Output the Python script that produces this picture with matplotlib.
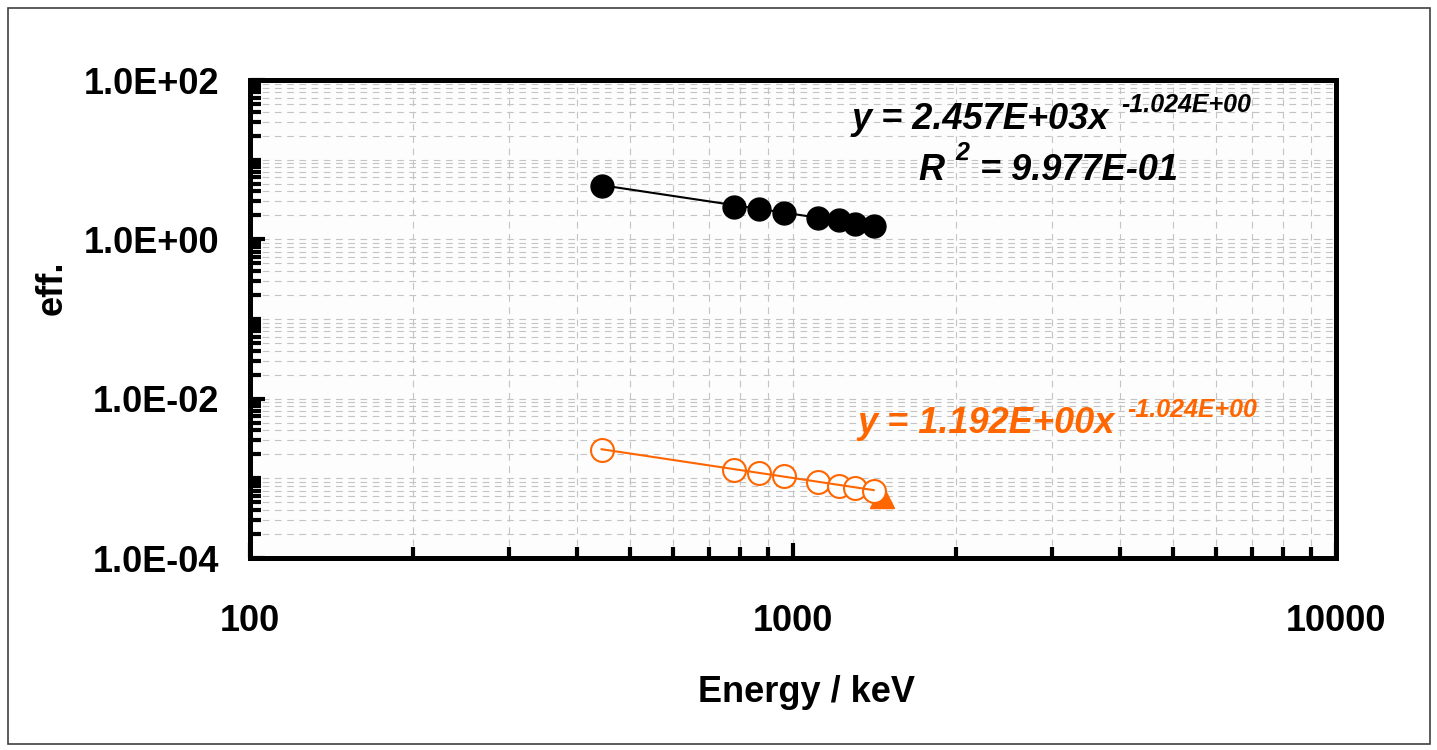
import numpy as np
import matplotlib.pyplot as plt
from matplotlib.ticker import FixedLocator, LogLocator, FuncFormatter, NullFormatter
from matplotlib.patches import Rectangle

plt.rcParams['font.family'] = ['Liberation Sans', 'DejaVu Sans']
plt.rcParams['font.weight'] = 'bold'

# data
energy = [444.0, 778.9, 867.4, 964.1, 1112.1, 1212.9, 1299.1, 1408.0]
eff_full = [4.71, 2.57, 2.38, 2.12, 1.84, 1.73, 1.55, 1.47]
eff_peak = [2.27e-3, 1.27e-3, 1.16e-3, 1.07e-3, 9.08e-4, 8.09e-4, 7.57e-4, 7.00e-4]
k40_energy = [1460.8]
k40_eff = [6.0e-4]

# trendline coefficients (power fit) shown on the chart
a_full, b_full = 2.457e3, -1.024
a_peak, b_peak = 1.192, -1.024
r2_full = 9.977e-1

orange = '#FF6600'
W, H = 1437, 750

fig = plt.figure(figsize=(W / 100, H / 100), dpi=100)
ax = fig.add_axes([250 / W, 1 - 558 / H, (1336 - 250) / W, (558 - 80) / H])
ax.set_facecolor('#fdfdfd')

ax.set_xscale('log')
ax.set_yscale('log')
ax.set_xlim(100, 10000)
ax.set_ylim(1e-4, 1e2)

# trendlines over the data range
xf = np.array([energy[0], energy[-1]])
ax.plot(xf, a_full * xf ** b_full, color='black', lw=1.5, zorder=3)
ax.plot(energy, eff_full, 'o', ms=16.5, color='black', zorder=4)

ax.plot(k40_energy, k40_eff, '^', ms=17, color=orange, zorder=3)
ax.plot(energy, eff_peak, 'o', ms=16.5, mfc='white', mec=orange, mew=1.5, zorder=4)
ax.plot(xf, a_peak * xf ** b_peak, color=orange, lw=1.5, zorder=5)

# ticks
ax.xaxis.set_major_locator(FixedLocator([100, 1000, 10000]))
ax.xaxis.set_minor_locator(LogLocator(base=10, subs=np.arange(1, 10), numticks=50))
ax.yaxis.set_major_locator(FixedLocator([1e-4, 1e-2, 1, 1e2]))
ax.yaxis.set_minor_locator(LogLocator(base=10, subs=np.arange(1, 10), numticks=50))
ax.xaxis.set_major_formatter(FuncFormatter(lambda v, p: '%d' % round(v)))
ax.yaxis.set_major_formatter(FuncFormatter(lambda v, p: ('%.1E' % v)))
ax.xaxis.set_minor_formatter(NullFormatter())
ax.yaxis.set_minor_formatter(NullFormatter())

ax.tick_params(which='both', direction='in', top=False, right=False, color='black')
ax.tick_params(which='major', length=11, width=3)
ax.tick_params(which='minor', length=8, width=3)
ax.tick_params(axis='x', which='major', pad=33, labelsize=26)
ax.tick_params(axis='y', which='major', pad=22, labelsize=26)
for lab in ax.get_xticklabels() + ax.get_yticklabels():
    lab.set_fontweight('bold')

for s in ax.spines.values():
    s.set_linewidth(3.6)

ax.grid(True, which='both', color='#c4c4c4', lw=0.8, ls=(0, (6, 5)))
ax.set_axisbelow(True)

# axis titles
fig.text(806 / W, 1 - 702 / H, 'Energy / keV', ha='center', va='baseline',
         fontsize=26, fontweight='bold')
fig.text(52 / W, 1 - 288 / H, 'eff.', ha='center', va='center', rotation=90,
         fontsize=26, fontweight='bold')

# trendline equations
def eq(x, y, s, color, size=26):
    fig.text(x / W, 1 - y / H, s, ha='left', va='baseline', fontsize=size,
             fontweight='bold', fontstyle='italic', color=color)

eq(852, 129, 'y = %.3Ex' % a_full, 'black')
eq(1121, 112, '%.3E' % b_full, 'black', 18)
eq(918, 180, 'R', 'black')
eq(955, 160, '2', 'black', 18)
eq(980, 180, '= %.3E' % r2_full, 'black')
eq(857, 433, 'y = %.3Ex' % a_peak, orange)
eq(1127, 417, '%.3E' % b_peak, orange, 18)

# outer chart border
fig.patches.append(Rectangle((8 / W, 6 / H), 1422 / W, 736 / H, transform=fig.transFigure,
                             fill=False, edgecolor='#404040', lw=1.2))

fig.savefig('out.png', dpi=100)
